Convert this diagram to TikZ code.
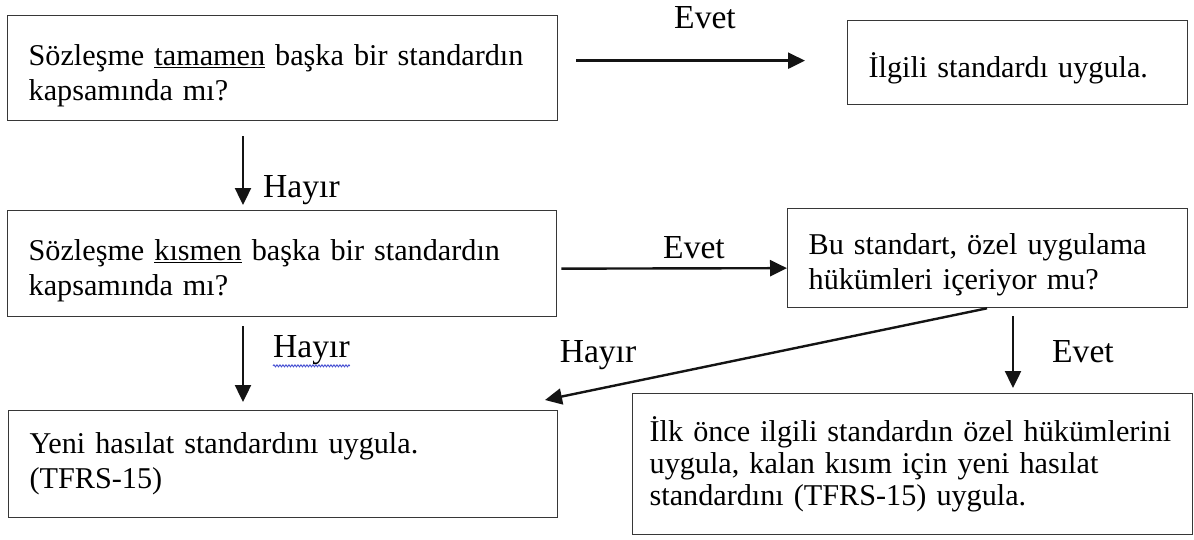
\documentclass[tikz,border=0pt]{standalone}
\usepackage{fontspec}
\setmainfont{Liberation Serif}
\usepackage{tikz}
\usetikzlibrary{arrows.meta, positioning, decorations.pathmorphing}
\definecolor{mydark}{RGB}{20,20,20}
\definecolor{myframe}{RGB}{55,55,55}
\definecolor{myspell}{RGB}{70,80,210}
\tikzset{
  box/.style={rectangle, draw=myframe, line width=1.3pt, anchor=north west,
    inner xsep=21pt, inner ysep=6pt, align=left,
    font=\fontsize{30.2}{35}\selectfont,
    execute at begin node={\hyphenpenalty=10000}},
  lowtext/.style={execute at begin node={\hyphenpenalty=10000\rule{0pt}{#1}}},
  answer/.style={font=\fontsize{33.6}{38}\selectfont, inner sep=0pt},
  arrow/.style={-{Triangle[length=17pt,width=16pt]}, line width=2.4pt, color=mydark},
  spell/.style={myspell, line width=0.9pt, decorate,
    decoration={snake, amplitude=1pt, segment length=3pt}}
}

\begin{document}
\begin{tikzpicture}[x=1pt, y=-1pt]
  \useasboundingbox (0,0) rectangle (1194,539);

  % Boxes
  \node[box, lowtext=36pt, minimum height=105pt, text width=508pt] (full) at (7,15)
    {Sözleşme \underline{tamamen} başka bir standardın\\kapsamında mı?};
  \node[box, lowtext=36pt, minimum height=84pt, text width=298pt] (apply) at (847,20)
    {İlgili standardı uygula.};
  \node[box, lowtext=36pt, minimum height=106pt, text width=507pt] (partial) at (7,210)
    {Sözleşme \underline{kısmen} başka bir standardın\\kapsamında mı?};
  \node[box, lowtext=34pt, minimum height=99pt, text width=358pt] (special) at (787,208)
    {Bu standart, özel uygulama\\hükümleri içeriyor mu?};
  \node[box, minimum height=107pt, text width=507pt] (newstd) at (8,410)
    {Yeni hasılat standardını uygula.\\(TFRS-15)};
  \node[box, inner xsep=17pt, minimum height=141pt, text width=526pt,
    font=\fontsize{30.2}{32}\selectfont] (both) at (632,393)
    {İlk önce ilgili standardın özel hükümlerini\\uygula, kalan kısım için yeni hasılat\\standardını (TFRS-15) uygula.};

  % Answers
  \node[answer] (evet1) at (705,18) {Evet};
  \node[answer, anchor=west] (hayir1) at (263,190) {Hayır};
  \node[answer] (evet2) at (694,248) {Evet};
  \node[answer, anchor=west] (hayir2) at (273,350) {Hayır};
  \node[answer] (hayir3) at (598,355) {Hayır};
  \node[answer, anchor=west] (evet3) at (1052,352) {Evet};
  \coordinate (hayirend) at (545,400);

  % Paths
  \draw[arrow, shorten <=18pt, shorten >=42pt] ([yshift=7.5pt]full.east) -- ([yshift=2pt]apply.west);
  \draw[arrow, shorten <=15pt, shorten >=5pt] ([xshift=236pt]full.south west) -- ([xshift=236pt]partial.north west);
  \draw[arrow, shorten <=4pt] ([yshift=-5pt]partial.east) -- ([yshift=-10pt]special.west);
  \draw[arrow, shorten <=9pt, shorten >=8pt] ([xshift=236pt]partial.south west) -- ([xshift=235pt]newstd.north west);
  \draw[arrow] ([xshift=200pt]special.south west) -- (hayirend);
  \draw[arrow, shorten <=8pt, shorten >=5pt] ([xshift=226pt]special.south west) -- ([xshift=381pt]both.north west);
  \draw[spell] ([yshift=-1pt]hayir2.south west) -- ([yshift=-1pt]hayir2.south east);
\end{tikzpicture}
\end{document}
